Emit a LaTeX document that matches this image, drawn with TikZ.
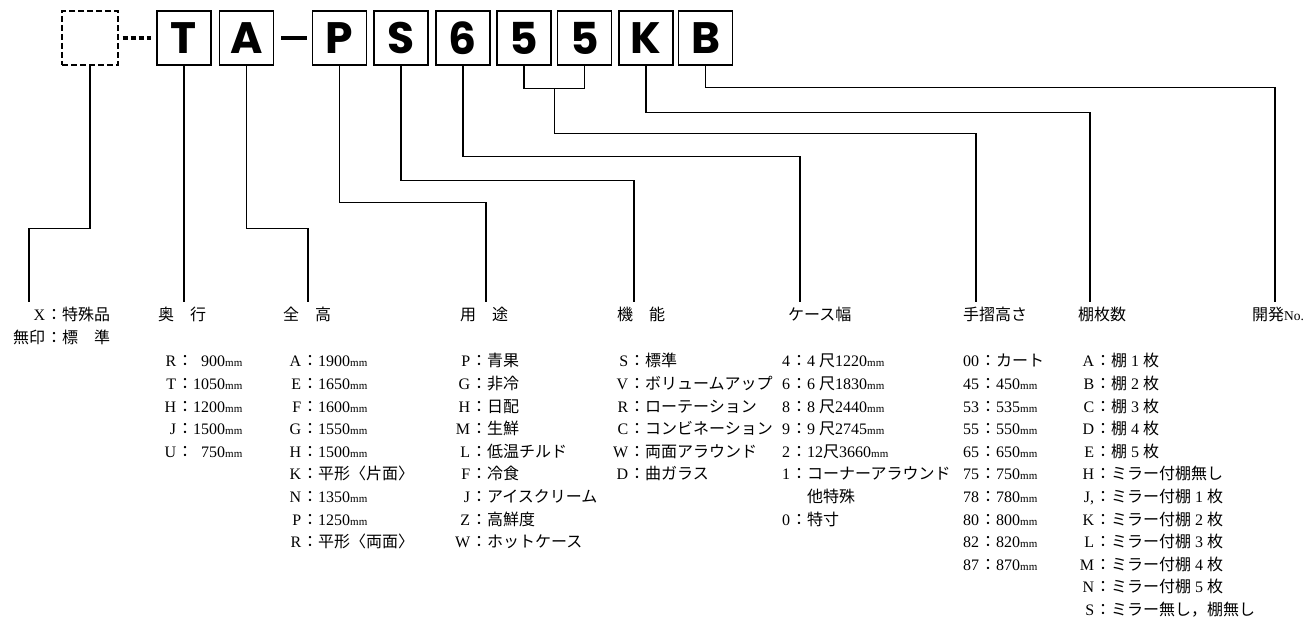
\documentclass[tikz,border=0pt]{standalone}
\usepackage{fontspec}
\setmainfont{Liberation Serif}
\newfontfamily\jp{Noto Sans CJK JP}
\newfontfamily\boxfont{Poppins}
\usetikzlibrary{calc}
\newcommand\fs{\fontsize{16}{22.6}\selectfont}
\newcommand\mmu{{\fontsize{11}{11}\selectfont mm}}
\newcommand\kv[2]{\llap{#1\kern1pt}{\jp ：}#2}
\newcommand\J[1]{{\jp #1}}
\newcommand\lst[1]{\begin{tabular}[t]{@{}l@{}}#1\end{tabular}}
\begin{document}
\begin{tikzpicture}[x=1pt,y=-1pt,
  code/.style={draw, line width=1.4pt, minimum width=54pt, minimum height=54pt, inner sep=0pt,
    font=\boxfont\bfseries\fontsize{44}{44}\selectfont},
  conn/.style={line width=1.2pt},
  txt/.style={font=\fs, inner sep=0pt, anchor=base west}]
\useasboundingbox (0,0) rectangle (1312,617);
\fill[white] (0,0) rectangle (1312,617);

% code boxes
\node[code, dashed, dash pattern=on 6pt off 3pt, line width=1.2pt, minimum width=56pt] (b0) at (90,38) {};
\node[code] (bT) at (184,38) {T};
\node[code] (bA) at (246.5,38) {A};
\node[code] (bP) at (339.5,38) {P};
\node[code] (bS) at (401,38) {S};
\node[code] (b6) at (463,38) {6};
\node[code] (b5a) at (524,38) {5};
\node[code] (b5b) at (584.5,38) {5};
\node[code] (bK) at (646,38) {K};
\node[code] (bB) at (705.5,38) {B};

% separators
\draw[line width=4pt, dash pattern=on 5.5pt off 2.5pt] (b0.east) ++(4,0) -- ([xshift=-5pt]bT.west);
\draw[line width=3.5pt, shorten <=7pt, shorten >=5pt] (bA.east) -- (bP.west);

% headers
\node[txt] (hX) at (46,321) {\lst{\kv{X}{\J{特殊品}}\\ \kv{\J{無印}}{\J{標　準}}}};
\node[txt] (hT) at (158,321) {\J{奥　行}};
\node[txt] (hA) at (283,321) {\J{全　高}};
\node[txt] (hP) at (460,321) {\J{用　途}};
\node[txt] (hS) at (617,321) {\J{機　能}};
\node[txt] (h6) at (788,321) {\J{ケース幅}};
\node[txt] (h55) at (963,321) {\J{手摺高さ}};
\node[txt] (hK) at (1078,321) {\J{棚枚数}};
\node[txt] (hB) at (1252,321) {\J{開発}{\fontsize{13.5}{13.5}\selectfont No.}};

% connector ends
\coordinate (eX) at (29,302);
\coordinate (eT) at (184,302);
\coordinate (eA) at (308,302);
\coordinate (eP) at (486,302);
\coordinate (eS) at (634,302);
\coordinate (e6) at (800,302);
\coordinate (e55) at (976,302);
\coordinate (eK) at (1090,302);
\coordinate (eB) at (1275,302);

% connectors
\draw[conn] (b0.south) -- ++(0,163) -| (eX);
\draw[conn] (bT.south) -- (eT);
\draw[conn] (bA.south) -- ++(0,163) -| (eA);
\draw[conn] (bP.south) -- ++(0,137) -| (eP);
\draw[conn] (bS.south) -- ++(0,115) -| (eS);
\draw[conn] (b6.south) -- ++(0,91) -| (e6);
\draw[conn] (b5a.south) -- ++(0,23) -| (b5b.south);
\coordinate (m55) at ($(b5a.south)!0.5!(b5b.south)+(0,23)$);
\draw[conn] (m55) -- ++(0,45) -| (e55);
\draw[conn] (bK.south) -- ++(0,47) -| (eK);
\draw[conn] (bB.south) -- ++(0,22) -| (eB);

% lists
\node[txt] (lT) at (177,367) {\lst{%
\kv{R}{\phantom{1}900\mmu}\\
\kv{T}{1050\mmu}\\
\kv{H}{1200\mmu}\\
\kv{J}{1500\mmu}\\
\kv{U}{\phantom{1}750\mmu}}};

\node[txt] (lA) at (302,367) {\lst{%
\kv{A}{1900\mmu}\\
\kv{E}{1650\mmu}\\
\kv{F}{1600\mmu}\\
\kv{G}{1550\mmu}\\
\kv{H}{1500\mmu}\\
\kv{K}{\J{平形〈片面〉}}\\
\kv{N}{1350\mmu}\\
\kv{P}{1250\mmu}\\
\kv{R}{\J{平形〈両面〉}}}};

\node[txt] (lP) at (471,367) {\lst{%
\kv{P}{\J{青果}}\\
\kv{G}{\J{非冷}}\\
\kv{H}{\J{日配}}\\
\kv{M}{\J{生鮮}}\\
\kv{L}{\J{低温チルド}}\\
\kv{F}{\J{冷食}}\\
\kv{J}{\J{アイスクリーム}}\\
\kv{Z}{\J{高鮮度}}\\
\kv{W}{\J{ホットケース}}}};

\node[txt] (lS) at (629,367) {\lst{%
\kv{S}{\J{標準}}\\
\kv{V}{\J{ボリュームアップ}}\\
\kv{R}{\J{ローテーション}}\\
\kv{C}{\J{コンビネーション}}\\
\kv{W}{\J{両面アラウンド}}\\
\kv{D}{\J{曲ガラス}}}};

\node[txt] (l6) at (791,367) {\lst{%
\kv{4}{4 \J{尺}1220\mmu}\\
\kv{6}{6 \J{尺}1830\mmu}\\
\kv{8}{8 \J{尺}2440\mmu}\\
\kv{9}{9 \J{尺}2745\mmu}\\
\kv{2}{12\J{尺}3660\mmu}\\
\kv{1}{\J{コーナーアラウンド}}\\
\J{\hphantom{：}他特殊}\\
\kv{0}{\J{特寸}}}};

\node[txt] (l55) at (980,367) {\lst{%
\kv{00}{\J{カート}}\\
\kv{45}{450\mmu}\\
\kv{53}{535\mmu}\\
\kv{55}{550\mmu}\\
\kv{65}{650\mmu}\\
\kv{75}{750\mmu}\\
\kv{78}{780\mmu}\\
\kv{80}{800\mmu}\\
\kv{82}{820\mmu}\\
\kv{87}{870\mmu}}};

\node[txt] (lK) at (1095,367) {\lst{%
\kv{A}{\J{棚} 1 \J{枚}}\\
\kv{B}{\J{棚} 2 \J{枚}}\\
\kv{C}{\J{棚} 3 \J{枚}}\\
\kv{D}{\J{棚} 4 \J{枚}}\\
\kv{E}{\J{棚} 5 \J{枚}}\\
\kv{H}{\J{ミラー付棚無し}}\\
\kv{J,}{\J{ミラー付棚} 1 \J{枚}}\\
\kv{K}{\J{ミラー付棚} 2 \J{枚}}\\
\kv{L}{\J{ミラー付棚} 3 \J{枚}}\\
\kv{M}{\J{ミラー付棚} 4 \J{枚}}\\
\kv{N}{\J{ミラー付棚} 5 \J{枚}}\\
\kv{S}{\J{ミラー無し，棚無し}}}};
\end{tikzpicture}
\end{document}
